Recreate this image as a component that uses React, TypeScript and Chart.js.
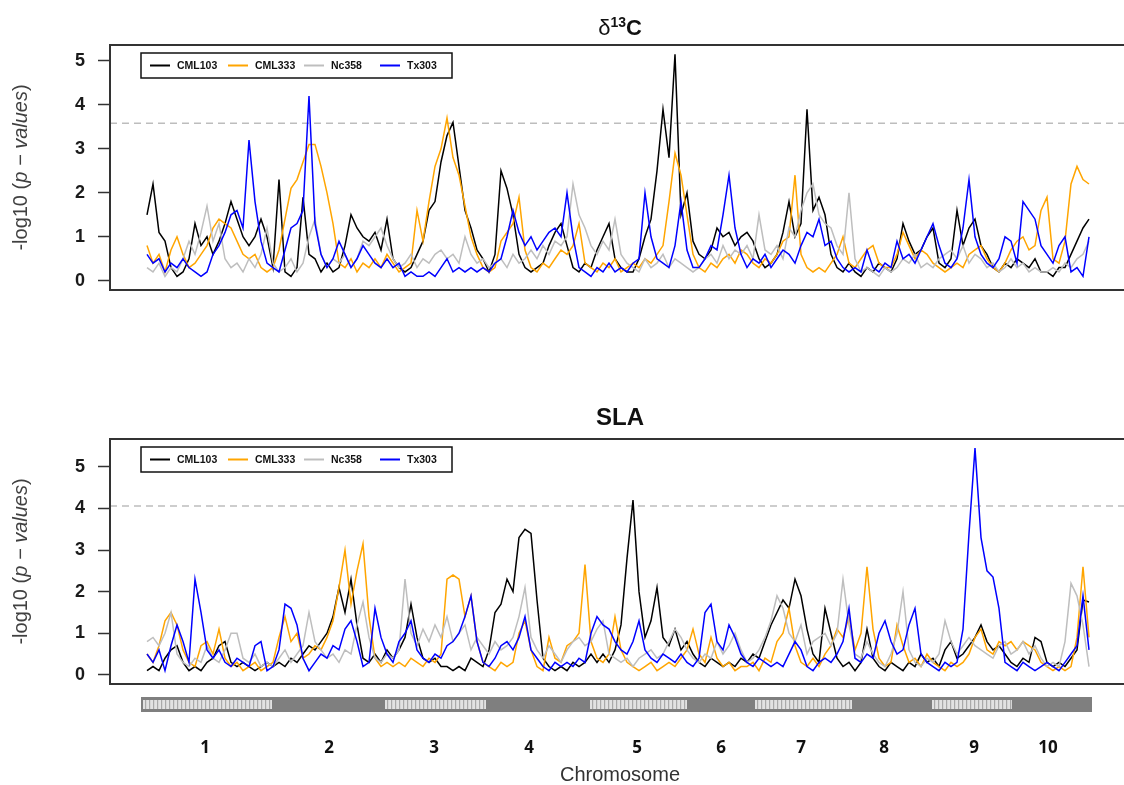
import React, { useEffect, useRef } from "react";
import { Chart, registerables } from "chart.js";

Chart.register(...registerables);

const FONT = '"Liberation Sans", Arial, Helvetica, sans-serif';

const seriesNames = ["CML103", "CML333", "Nc358", "Tx303"];
const seriesColors = ["#000000", "#FFA500", "#BEBEBE", "#0000FF"];
const seriesOrder = [3, 2, 1, 0];

const chromosomeNames = ["1", "2", "3", "4", "5", "6", "7", "8", "9", "10"];
const chromosomeBounds = [0, 132, 242, 346, 447, 547, 612, 712, 789, 872, 951];
const chromosomeLabelPos = [64, 188, 293, 388, 496, 580, 660, 743, 833, 907];

const yTickValues = [0, 1, 2, 3, 4, 5];
const markerStart = 6;
const markerStep = 6;

const d13cThreshold = 3.58;
const slaThreshold = 4.06;

// ---------- delta 13C ----------
const d13cCML103 = [
  1.5, 2.2, 1.1, 0.9, 0.3, 0.1, 0.2, 0.5, 1.3, 0.8,
  1.0, 0.6, 0.9, 1.3, 1.8, 1.4, 1.0, 0.8, 1.0, 1.4,
  1.0, 0.3, 2.3, 0.2, 0.1, 0.3, 1.9, 0.6, 0.5, 0.2,
  0.4, 0.2, 0.3, 0.8, 1.5, 1.2, 1.0, 0.9, 1.1, 0.7,
  1.4, 0.5, 0.3, 0.2, 0.3, 0.6, 0.9, 1.6, 1.8, 2.7,
  3.3, 3.6, 2.6, 1.6, 1.2, 0.7, 0.5, 0.2, 0.6, 2.5,
  2.1, 1.5, 0.6, 0.3, 0.2, 0.3, 0.4, 0.8, 1.1, 1.3,
  0.8, 0.3, 0.2, 0.4, 0.3, 0.7, 1.0, 1.3, 0.5, 0.3,
  0.2, 0.2, 0.5, 1.0, 1.4, 2.5, 3.9, 2.8, 5.15, 1.5,
  2.0, 0.9, 0.6, 0.5, 0.7, 1.2, 1.0, 1.1, 0.8, 1.0,
  1.1, 0.9, 0.5, 0.3, 0.4, 0.6, 1.1, 1.8, 1.0, 1.3,
  3.9, 1.6, 1.9, 1.5, 0.6, 0.3, 0.2, 0.4, 0.2, 0.1,
  0.3, 0.2, 0.4, 0.3, 0.2, 0.5, 1.3, 0.9, 0.6, 0.7,
  1.0, 1.2, 0.4, 0.3, 0.5, 1.6, 0.8, 1.2, 1.4, 0.8,
  0.6, 0.3, 0.2, 0.4, 0.3, 0.5, 0.4, 0.3, 0.5, 0.2,
  0.2, 0.1, 0.3, 0.3, 0.6, 0.9, 1.2, 1.4,
];
const d13cCML333 = [
  0.8, 0.4, 0.6, 0.2, 0.7, 1.0, 0.6, 0.3, 0.4, 0.6,
  0.8, 1.2, 1.4, 1.3, 1.2, 0.9, 0.6, 0.5, 0.6, 0.3,
  0.2, 0.3, 0.7, 1.4, 2.1, 2.3, 2.7, 3.1, 3.1, 2.6,
  2.0, 1.3, 0.4, 0.3, 0.5, 0.2, 0.4, 0.3, 0.5, 0.3,
  0.6, 0.4, 0.2, 0.3, 0.4, 1.6, 0.9, 1.8, 2.6, 3.0,
  3.7, 2.8, 2.4, 1.7, 1.0, 0.6, 0.3, 0.2, 0.3, 0.9,
  1.1, 1.3, 1.9, 0.7, 0.3, 0.2, 0.4, 0.3, 0.5, 0.7,
  0.6, 0.8, 1.3, 0.4, 0.3, 0.2, 0.4, 0.3, 0.5, 0.2,
  0.3, 0.4, 0.3, 0.5, 0.4, 0.6, 0.8, 1.8, 2.9, 2.4,
  1.5, 0.6, 0.3, 0.2, 0.4, 0.3, 0.5, 0.6, 0.4, 0.7,
  0.6, 0.4, 0.3, 0.5, 0.4, 0.6, 0.9, 1.0, 2.4, 0.6,
  0.3, 0.2, 0.3, 0.2, 0.4, 0.6, 1.0, 0.4, 0.3, 0.5,
  0.7, 0.8, 0.4, 0.3, 0.3, 0.6, 1.1, 0.8, 0.5, 0.7,
  0.6, 0.4, 0.3, 0.2, 0.3, 0.4, 0.3, 0.6, 0.7, 0.8,
  0.5, 0.3, 0.2, 0.4, 0.7, 0.9, 1.0, 0.7, 0.8, 1.6,
  1.9, 0.5, 0.4, 0.9, 2.2, 2.6, 2.3, 2.2,
];
const d13cNc358 = [
  0.3, 0.2, 0.4, 0.1, 0.3, 0.2, 0.5, 0.9, 0.6, 1.1,
  1.7, 0.9, 1.3, 0.5, 0.3, 0.4, 0.2, 0.5, 0.3, 0.6,
  1.2, 0.4, 0.2, 0.3, 0.5, 0.2, 0.4, 1.0, 1.4, 0.6,
  0.3, 0.5, 0.4, 0.6, 0.3, 0.5, 0.9, 0.8, 1.0, 1.2,
  0.8, 0.5, 0.3, 0.4, 0.6, 0.3, 0.5, 0.4, 0.6, 0.7,
  0.5, 0.6, 0.4, 1.0, 0.6, 0.4, 0.5, 0.3, 0.4, 0.5,
  0.3, 0.6, 0.4, 0.5, 0.7, 0.5, 0.8, 0.6, 0.9, 0.8,
  1.0, 2.2, 1.5, 1.2, 0.8, 0.6, 0.9, 0.7, 1.4, 0.6,
  0.4, 0.3, 0.2, 0.5, 0.3, 0.4, 0.6, 0.3, 0.5, 0.4,
  0.3, 0.2, 0.3, 0.5, 0.6, 0.4, 0.8, 0.5, 0.7, 0.6,
  0.8, 0.5, 1.5, 0.7, 0.6, 0.8, 0.5, 1.2, 1.0, 1.6,
  2.0, 2.2, 1.5, 1.3, 1.2, 0.8, 0.6, 2.0, 0.5, 0.2,
  0.3, 0.2, 0.1, 0.3, 0.2, 0.3, 0.5, 0.4, 0.6, 0.3,
  0.4, 0.3, 0.5, 0.6, 0.7, 0.5, 0.8, 0.4, 0.6, 0.5,
  0.3, 0.4, 0.2, 0.3, 0.5, 0.3, 0.4, 0.2, 0.3, 0.2,
  0.2, 0.3, 0.2, 0.4, 0.3, 0.5, 0.6, 0.9,
];
const d13cTx303 = [
  0.6, 0.4, 0.5, 0.2, 0.4, 0.3, 0.5, 0.3, 0.2, 0.1,
  0.2, 0.6, 0.8, 1.1, 1.5, 1.6, 1.2, 3.2, 1.8, 0.9,
  0.4, 0.3, 0.2, 0.7, 1.2, 1.3, 1.6, 4.2, 1.3, 0.6,
  0.3, 0.5, 0.9, 0.6, 0.3, 0.5, 0.8, 0.6, 0.4, 0.3,
  0.5, 0.3, 0.4, 0.1, 0.2, 0.1, 0.1, 0.2, 0.1, 0.3,
  0.5, 0.2, 0.3, 0.2, 0.3, 0.2, 0.3, 0.2, 0.4, 0.5,
  1.0, 1.6, 1.1, 0.8, 1.0, 0.7, 0.9, 1.1, 1.2, 1.0,
  2.0, 1.0, 0.3, 0.2, 0.1, 0.3, 0.2, 0.4, 0.2, 0.3,
  0.2, 0.4, 0.5, 2.0, 1.0, 0.5, 0.4, 0.3, 0.8, 1.8,
  0.7, 0.3, 0.3, 0.5, 0.8, 0.7, 1.5, 2.4, 1.2, 0.6,
  0.3, 0.5, 0.4, 0.6, 0.3, 0.5, 0.7, 0.6, 0.4, 0.8,
  1.1, 1.0, 1.4, 0.8, 0.9, 0.5, 0.3, 0.2, 0.3, 0.2,
  0.7, 0.3, 0.2, 0.4, 0.3, 0.9, 0.5, 0.6, 0.4, 0.7,
  1.0, 1.3, 0.8, 0.4, 0.3, 0.5, 1.2, 2.3, 1.0, 0.6,
  0.4, 0.3, 0.5, 1.0, 0.9, 0.4, 1.8, 1.6, 1.4, 0.8,
  0.6, 0.4, 0.8, 1.0, 0.2, 0.3, 0.1, 1.0,
];

// ---------- SLA ----------
const slaCML103 = [
  0.1, 0.2, 0.1, 0.4, 0.6, 0.7, 0.3, 0.1, 0.2, 0.1,
  0.3, 0.4, 0.7, 0.8, 0.3, 0.2, 0.3, 0.2, 0.1, 0.2,
  0.3, 0.2, 0.3, 0.2, 0.4, 0.3, 0.5, 0.7, 0.6, 0.8,
  1.0, 1.4, 2.1, 1.5, 2.3, 1.2, 0.4, 0.3, 0.5, 0.3,
  0.6, 0.4, 0.6, 0.9, 1.7, 0.9, 0.4, 0.3, 0.4, 0.2,
  0.2, 0.1, 0.2, 0.1, 0.4, 0.3, 0.2, 0.6, 1.5, 1.7,
  2.3, 2.0, 3.3, 3.5, 3.4, 1.8, 0.4, 0.2, 0.1, 0.2,
  0.1, 0.3, 0.2, 0.3, 0.5, 0.3, 0.5, 0.3, 0.6, 1.2,
  2.8, 4.2, 2.0, 0.9, 1.3, 2.1, 0.9, 0.7, 1.1, 0.6,
  0.8, 0.5, 0.3, 0.2, 0.4, 0.3, 0.2, 0.3, 0.2, 0.4,
  0.3, 0.5, 0.4, 0.8, 1.2, 1.5, 1.8, 1.6, 2.3, 1.9,
  1.1, 0.5, 0.3, 1.6, 1.0, 0.4, 0.2, 0.3, 0.1, 0.3,
  1.1, 0.4, 0.2, 0.1, 0.3, 0.2, 0.1, 0.3, 0.2, 0.5,
  0.3, 0.4, 0.2, 0.6, 0.8, 0.4, 0.5, 0.7, 0.9, 1.2,
  0.8, 0.6, 0.7, 0.5, 0.3, 0.2, 0.4, 0.3, 0.9, 0.8,
  0.3, 0.2, 0.3, 0.2, 0.4, 0.6, 1.8, 1.75,
];
const slaCML333 = [
  0.5, 0.3, 0.7, 1.3, 1.5, 1.2, 0.6, 0.3, 0.2, 0.7,
  0.8, 0.5, 1.1, 0.4, 0.2, 0.3, 0.1, 0.2, 0.3, 0.1,
  0.2, 0.3, 0.9, 1.4, 0.8, 1.0, 0.4, 0.5, 0.7, 0.6,
  0.9, 1.3, 2.1, 3.0, 1.7, 2.5, 3.15, 1.4, 0.4, 0.2,
  0.3, 0.2, 0.3, 0.2, 0.4, 0.3, 0.2, 0.4, 0.3, 0.5,
  2.3, 2.4, 2.3, 1.4, 1.9, 0.8, 0.3, 0.2, 0.1, 0.3,
  0.2, 0.3, 1.0, 1.3, 0.6, 0.2, 0.1, 0.9, 0.4, 0.3,
  0.7, 0.8, 1.0, 2.65, 0.8, 0.4, 0.3, 0.5, 1.4, 0.6,
  0.3, 0.2, 0.1, 0.2, 0.3, 0.1, 0.2, 0.3, 0.2, 0.4,
  0.6, 1.1, 0.5, 0.3, 0.9, 0.4, 0.2, 0.3, 0.1, 0.2,
  0.2, 0.3, 0.1, 0.4, 0.3, 0.8, 1.0, 1.6, 0.7, 0.3,
  0.2, 0.4, 0.2, 0.5, 0.7, 1.1, 0.9, 1.4, 0.6, 1.0,
  2.6, 1.1, 0.4, 0.2, 0.3, 1.2, 0.7, 0.3, 0.4, 0.2,
  0.5, 0.3, 0.2, 0.1, 0.3, 0.2, 0.3, 0.5, 0.9, 1.1,
  0.6, 0.5, 0.8, 0.7, 0.8, 0.6, 0.8, 0.7, 0.6, 0.3,
  0.2, 0.1, 0.2, 0.1, 0.2, 0.9, 2.6, 0.9,
];
const slaNc358 = [
  0.8, 0.9, 0.7, 1.0, 1.5, 0.5, 0.3, 0.2, 0.4, 0.3,
  0.7, 0.4, 0.3, 0.6, 1.0, 1.0, 0.4, 0.3, 0.5, 0.2,
  0.3, 0.2, 0.4, 0.6, 0.3, 0.5, 0.7, 1.5, 0.8, 0.6,
  0.4, 0.5, 0.3, 0.6, 0.5, 1.2, 1.75, 0.9, 0.4, 0.3,
  0.5, 0.4, 0.6, 2.3, 1.0, 0.7, 1.1, 0.8, 1.2, 0.9,
  1.4, 0.8, 1.0, 1.2, 0.6, 0.9, 0.7, 0.5, 0.8, 0.6,
  0.7, 0.9, 1.4, 2.1, 0.9, 0.6, 0.4, 0.7, 0.5, 0.3,
  0.6, 0.8, 0.9, 0.7, 0.8, 1.1, 1.3, 0.5, 0.4, 0.3,
  0.4, 0.2, 0.4, 0.5, 0.6, 0.4, 0.5, 0.8, 1.1, 0.9,
  0.6, 0.4, 0.3, 0.5, 0.4, 0.8, 0.5, 0.7, 1.0, 0.6,
  0.3, 0.4, 0.6, 0.9, 1.3, 1.9, 1.6, 1.0, 0.8, 1.2,
  0.5, 0.8, 0.9, 1.0, 0.7, 1.0, 2.3, 1.2, 0.5, 0.4,
  0.8, 0.5, 0.3, 0.2, 0.5, 1.0, 2.0, 0.6, 0.3, 0.2,
  0.4, 0.3, 0.5, 1.3, 0.8, 0.5, 0.7, 0.9, 0.7, 0.6,
  0.5, 0.4, 0.7, 0.8, 0.5, 0.6, 0.8, 0.5, 0.7, 0.4,
  0.2, 0.3, 0.2, 0.8, 2.2, 1.9, 1.2, 0.2,
];
const slaTx303 = [
  0.5, 0.3, 0.6, 0.1, 0.7, 1.2, 0.8, 0.3, 2.3, 1.5,
  0.6, 0.4, 0.6, 0.3, 0.2, 0.4, 0.3, 0.2, 0.7, 0.8,
  0.1, 0.2, 0.6, 1.7, 1.6, 1.2, 0.4, 0.1, 0.3, 0.5,
  0.4, 0.7, 0.6, 1.1, 1.3, 0.8, 0.2, 0.3, 1.6, 0.9,
  0.5, 0.3, 0.8, 1.0, 1.3, 0.6, 0.4, 0.3, 0.5, 0.4,
  0.7, 0.8, 1.0, 1.4, 1.9, 0.8, 0.3, 0.2, 0.4, 0.7,
  0.8, 0.6, 0.9, 1.4, 0.6, 0.4, 0.2, 0.1, 0.3, 0.2,
  0.3, 0.2, 0.4, 0.3, 1.0, 1.4, 1.2, 1.1, 0.8, 0.6,
  0.5, 0.8, 1.3, 0.6, 0.4, 0.3, 0.5, 0.4, 0.3, 0.5,
  0.3, 0.2, 0.4, 1.5, 1.7, 0.8, 0.6, 1.2, 0.9, 0.5,
  0.3, 0.2, 0.4, 0.3, 0.2, 0.3, 0.2, 0.5, 0.8, 0.6,
  0.2, 0.1, 0.3, 0.4, 0.3, 0.5, 0.8, 1.6, 0.4, 0.3,
  0.5, 0.4, 1.0, 1.3, 0.8, 0.5, 0.6, 1.2, 1.6, 0.5,
  0.3, 0.2, 0.1, 0.3, 0.2, 0.3, 1.1, 3.4, 5.45, 3.3,
  2.5, 2.35, 1.6, 0.3, 0.2, 0.1, 0.3, 0.2, 0.1, 0.2,
  0.3, 0.2, 0.1, 0.3, 0.5, 0.7, 1.9, 0.6,
];

const markerPos = d13cCML103.map((_, i) => markerStart + i * markerStep);

type Seg = { t: string; size: number; weight?: string; style?: string; dy?: number };

function drawSegs(ctx: CanvasRenderingContext2D, segs: Seg[], cx: number, y: number) {
  const widths = segs.map((s) => {
    ctx.font = `${s.style || "normal"} ${s.weight || "normal"} ${s.size}px ${FONT}`;
    return ctx.measureText(s.t).width;
  });
  const total = widths.reduce((a, b) => a + b, 0);
  let x = cx - total / 2;
  segs.forEach((s, i) => {
    ctx.font = `${s.style || "normal"} ${s.weight || "normal"} ${s.size}px ${FONT}`;
    ctx.fillText(s.t, x, y + (s.dy || 0));
    x += widths[i];
  });
}

type DecorCfg = {
  title: Seg[];
  titleGap: number;
  threshold: number;
  chromosomes: boolean;
};

function makeDecor(cfg: DecorCfg) {
  return {
    id: "decor",
    beforeDatasetsDraw(chart: any) {
      const { ctx, chartArea: a, scales } = chart;
      const y = scales.y.getPixelForValue(cfg.threshold);
      ctx.save();
      ctx.strokeStyle = "#bdbdbd";
      ctx.lineWidth = 1.5;
      ctx.setLineDash([7, 5]);
      ctx.beginPath();
      ctx.moveTo(a.left, y);
      ctx.lineTo(a.right, y);
      ctx.stroke();
      ctx.restore();
    },
    afterDraw(chart: any) {
      const { ctx, chartArea: a, scales } = chart;
      ctx.save();
      // box
      ctx.strokeStyle = "#333";
      ctx.lineWidth = 2;
      ctx.strokeRect(a.left, a.top, a.right - a.left, a.bottom - a.top);

      // legend
      const lx = a.left + 31;
      const ly = a.top + 8;
      const lw = 311;
      const lh = 25;
      ctx.fillStyle = "#fff";
      ctx.fillRect(lx, ly, lw, lh);
      ctx.strokeStyle = "#111";
      ctx.lineWidth = 1.5;
      ctx.strokeRect(lx, ly, lw, lh);
      const offs = [9, 87, 163, 239];
      chart.data.datasets.forEach((ds: any, i: number) => {
        const yy = ly + lh / 2;
        ctx.strokeStyle = ds.borderColor;
        ctx.lineWidth = 2;
        ctx.beginPath();
        ctx.moveTo(lx + offs[i], yy);
        ctx.lineTo(lx + offs[i] + 20, yy);
        ctx.stroke();
        ctx.fillStyle = "#111";
        ctx.font = `bold 10.5px ${FONT}`;
        ctx.textAlign = "left";
        ctx.textBaseline = "middle";
        ctx.fillText(ds.label, lx + offs[i] + 27, yy + 0.5);
      });

      // title
      ctx.fillStyle = "#111";
      ctx.textAlign = "left";
      ctx.textBaseline = "alphabetic";
      drawSegs(ctx, cfg.title, (a.left + a.right) / 2, a.top - cfg.titleGap);

      // y label
      ctx.save();
      ctx.translate(21, (a.top + a.bottom) / 2);
      ctx.rotate(-Math.PI / 2);
      ctx.fillStyle = "#404040";
      ctx.textBaseline = "middle";
      drawSegs(
        ctx,
        [
          { t: "-log10 (", size: 20 },
          { t: "p \u2212 values", size: 20, style: "italic" },
          { t: ")", size: 20 },
        ],
        0,
        0
      );
      ctx.restore();

      if (cfg.chromosomes) {
        const xs = scales.x;
        const top = a.bottom + 13;
        const h = 15;
        const x0 = xs.getPixelForValue(chromosomeBounds[0]);
        const x1 = xs.getPixelForValue(chromosomeBounds[chromosomeBounds.length - 1]);
        ctx.fillStyle = "#7f7f7f";
        ctx.fillRect(x0, top, x1 - x0, h);
        for (let i = 0; i < chromosomeNames.length; i += 2) {
          const s = xs.getPixelForValue(chromosomeBounds[i]) + 2;
          const e = xs.getPixelForValue(chromosomeBounds[i + 1]) - 1;
          ctx.fillStyle = "#e2e2e2";
          ctx.fillRect(s, top + 3, e - s, h - 6);
          ctx.fillStyle = "#a9a9a9";
          for (let sx = s + 2; sx < e - 1; sx += 4) {
            ctx.fillRect(sx, top + 3, 1.2, h - 6);
          }
        }
        ctx.fillStyle = "#111";
        ctx.font = `bold 17px "Open Sans", ${FONT}`;
        ctx.textAlign = "center";
        ctx.textBaseline = "middle";
        chromosomeNames.forEach((n, i) => {
          ctx.fillText(n, xs.getPixelForValue(chromosomeLabelPos[i]), a.bottom + 64);
        });
        ctx.fillStyle = "#333";
        ctx.font = `20px ${FONT}`;
        ctx.fillText("Chromosome", (a.left + a.right) / 2, a.bottom + 91);
      }
      ctx.restore();
    },
  };
}

function buildConfig(series: number[][], yMin: number, yMax: number, pad: any, cfg: DecorCfg): any {
  return {
    type: "line",
    data: {
      datasets: series.map((vals, i) => ({
        label: seriesNames[i],
        data: vals.map((v, j) => ({ x: markerPos[j], y: v })),
        borderColor: seriesColors[i],
        backgroundColor: seriesColors[i],
        borderWidth: 1.5,
        pointRadius: 0,
        tension: 0,
        fill: false,
        order: seriesOrder[i],
      })),
    },
    options: {
      animation: false,
      responsive: false,
      devicePixelRatio: 1,
      layout: { padding: pad },
      plugins: {
        legend: { display: false },
        title: { display: false },
        tooltip: { enabled: false },
      },
      scales: {
        x: {
          type: "linear",
          min: -31,
          max: 989,
          display: false,
        },
        y: {
          type: "linear",
          min: yMin,
          max: yMax,
          afterBuildTicks: (s: any) => {
            s.ticks = yTickValues.map((v) => ({ value: v }));
          },
          afterFit: (s: any) => {
            s.width = 110;
          },
          grid: {
            drawOnChartArea: false,
            drawTicks: true,
            tickLength: 12,
            tickColor: "#333",
            tickWidth: 1.5,
          },
          border: { display: false },
          ticks: {
            font: { family: FONT, size: 18, weight: "bold" },
            color: "#1a1a1a",
            padding: 13,
          },
        },
      },
    },
    plugins: [makeDecor(cfg)],
  };
}

export default function App() {
  const c1 = useRef<HTMLCanvasElement>(null);
  const c2 = useRef<HTMLCanvasElement>(null);

  useEffect(() => {
    const ch1 = new Chart(
      c1.current as HTMLCanvasElement,
      buildConfig(
        [d13cCML103, d13cCML333, d13cNc358, d13cTx303],
        -0.21,
        5.36,
        { left: 0, right: 10, top: 45, bottom: 40 },
        {
          title: [
            { t: "\u03b4", size: 22 },
            { t: "13", size: 14, weight: "bold", dy: -8 },
            { t: "C", size: 22, weight: "bold" },
          ],
          titleGap: 10.5,
          threshold: d13cThreshold,
          chromosomes: false,
        }
      )
    );
    const ch2 = new Chart(
      c2.current as HTMLCanvasElement,
      buildConfig(
        [slaCML103, slaCML333, slaNc358, slaTx303],
        -0.22,
        5.67,
        { left: 0, right: 10, top: 59, bottom: 101 },
        {
          title: [{ t: "SLA", size: 24, weight: "bold" }],
          titleGap: 14,
          threshold: slaThreshold,
          chromosomes: true,
        }
      )
    );
    return () => {
      ch1.destroy();
      ch2.destroy();
    };
  }, []);

  return (
    <div
      style={{
        position: "fixed",
        left: 0,
        top: 0,
        width: 1124,
        height: 785,
        overflow: "hidden",
        background: "#fff",
      }}
    >
      <canvas ref={c1} width={1140} height={330} style={{ position: "absolute", left: 0, top: 0 }} />
      <canvas ref={c2} width={1140} height={405} style={{ position: "absolute", left: 0, top: 380 }} />
    </div>
  );
}
